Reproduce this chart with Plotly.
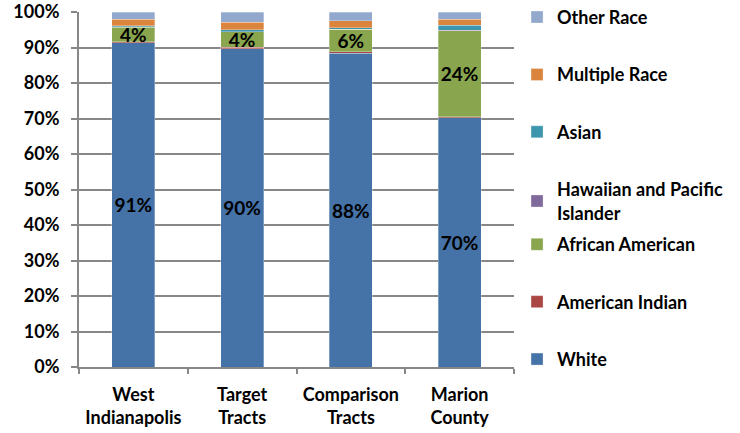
import plotly.graph_objects as go

areas = ["West<br>Indianapolis", "Target<br>Tracts", "Comparison<br>Tracts", "Marion<br>County"]

white = [91.3, 89.7, 88.4, 70.2]
american_indian = [0.3, 0.4, 0.4, 0.3]
african_american = [4.1, 4.3, 6.3, 24.2]
hawaiian = [0.1, 0.1, 0.1, 0.1]
asian = [0.3, 0.5, 0.3, 1.4]
multiple_race = [1.8, 2.1, 2.0, 1.7]
other_race = [2.1, 2.9, 2.5, 2.1]

series = [
    ("White", white, "#4572A7", True, "legend2"),
    ("American Indian", american_indian, "#AA4643", False, "legend2"),
    ("African American", african_american, "#89A54E", True, "legend2"),
    ("Hawaiian and Pacific<br>Islander", hawaiian, "#80699B", False, "legend"),
    ("Asian", asian, "#3D96AE", False, "legend"),
    ("Multiple Race", multiple_race, "#DB843D", False, "legend"),
    ("Other Race", other_race, "#92A8CD", False, "legend"),
]

font_family = "Lato"
fig = go.Figure()
for i, (name, vals, color, labelled, leg) in enumerate(series):
    fig.add_trace(go.Bar(
        x=areas,
        y=[v / 100 for v in vals],
        name=name,
        legendgroup=name,
        legendrank=len(series) - i,
        marker=dict(color=color, line=dict(color="rgba(255,255,255,0.6)", width=0.5)),
        text=[f"{round(v)}%" for v in vals] if labelled else None,
        textposition="inside" if labelled else "none",
        insidetextanchor="middle",
        constraintext="none",
        textangle=0,
        textfont=dict(family=font_family, size=19, color="black", weight="bold"),
        legend=leg,
    ))

legend_style = dict(
    x=1.007, xanchor="left", yanchor="top",
    traceorder="grouped", tracegroupgap=31,
    font=dict(size=18, weight="bold"),
    itemwidth=30,
    maxheight=430,
)

fig.update_layout(
    width=740,
    height=433,
    barmode="stack",
    bargap=0.605,
    plot_bgcolor="white",
    paper_bgcolor="white",
    margin=dict(l=79, r=226, t=12, b=66, autoexpand=False),
    font=dict(family=font_family, size=18, color="black", weight="bold"),
    legend=dict(y=1.037, **legend_style),
    legend2=dict(y=0.397, **legend_style),
)

fig.update_yaxes(
    range=[0, 1],
    tickformat=".0%",
    dtick=0.1,
    showgrid=True,
    gridcolor="#878787",
    gridwidth=2,
    showline=True,
    linecolor="#878787",
    linewidth=2,
    ticks="outside",
    ticklen=6,
    tickwidth=2,
    tickcolor="#878787",
    zeroline=False,
    ticklabeloverflow="allow",
    ticklabelstandoff=8,
    tickfont=dict(size=18, weight="bold"),
)
fig.update_xaxes(
    showline=True,
    linecolor="#878787",
    linewidth=2,
    ticks="outside",
    tickson="boundaries",
    ticklen=5,
    tickwidth=2,
    tickcolor="#878787",
    tickangle=0,
    ticklabelstandoff=10,
    tickfont=dict(size=18, weight="bold"),
)

fig.write_html("out.html", config={"displayModeBar": False},
               post_script="document.body.style.margin='0';")
